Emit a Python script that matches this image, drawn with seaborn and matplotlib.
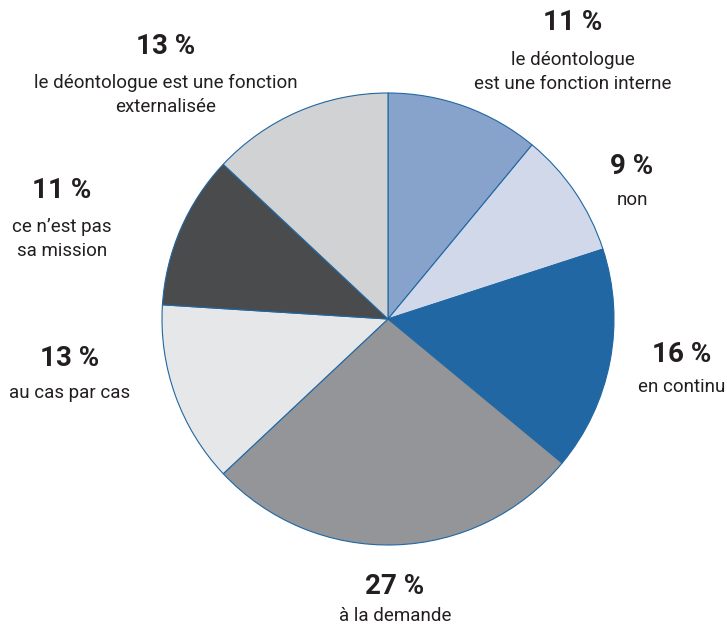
import matplotlib
matplotlib.use("Agg")
import matplotlib.pyplot as plt
from matplotlib import font_manager
import seaborn as sns

# Slice data, clockwise from 12 o'clock
shares = [11, 9, 16, 27, 13, 11, 13]
captions = [
    ["le déontologue", "est une fonction interne"],
    ["non"],
    ["en continu"],
    ["à la demande"],
    ["au cas par cas"],
    ["ce n’est pas", "sa mission"],
    ["le déontologue est une fonction", "externalisée"],
]
colors = ["#88a3cb", "#d0d8ea", "#2167a3", "#939598", "#e6e7e8", "#4a4b4d", "#d1d2d4"]

sns.set_theme(style="white")
names = {f.name for f in font_manager.fontManager.ttflist}
narrow = "Liberation Sans Narrow" in names
family = "Liberation Sans Narrow" if narrow else "Roboto"
plt.rcParams["font.family"] = [family, "DejaVu Sans"]
cap_size = 15 if narrow else 13.5
pct_size = 21 if narrow else 20

W, H = 727, 628
fig = plt.figure(figsize=(W / 100, H / 100), dpi=100)
ax = fig.add_axes([0, 0, 1, 1])

cx, cy, r = 388, H - 319, 226
ax.pie(
    shares,
    colors=colors,
    startangle=90,
    counterclock=False,
    center=(cx, cy),
    radius=r,
    wedgeprops=dict(edgecolor="#2167a3", linewidth=0.8),
    frame=False,
)
ax.set_xlim(0, W)
ax.set_ylim(0, H)
ax.set_aspect("equal")
ax.axis("off")

# label anchors: x, y of the percentage line (from the top), caption gap
anchors = [
    (573, 23, 37),
    (632, 166, 34),
    (682, 354, 33),
    (395, 587, 29),
    (70, 359, 34),
    (62, 191, 36),
    (166, 46, 37),
]
txt = "#231f20"
for share, lines, (x, y, gap) in zip(shares, captions, anchors):
    ax.text(x, H - y, f"{share} %", ha="center", va="center",
            fontsize=pct_size, fontweight="bold", color=txt)
    for i, line in enumerate(lines):
        ax.text(x, H - (y + gap + 24 * i), line, ha="center", va="center",
                fontsize=cap_size, color=txt)

fig.savefig("out.png", dpi=100)
